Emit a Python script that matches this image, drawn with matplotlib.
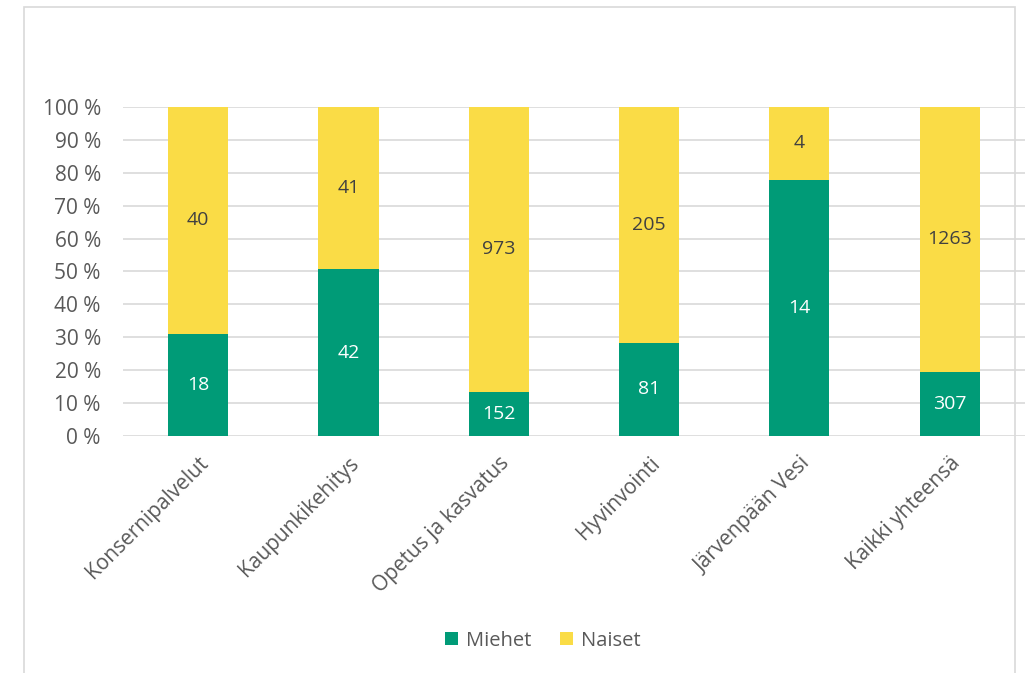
import matplotlib.pyplot as plt
import matplotlib.patches as mpatches
import numpy as np

plt.rcParams['font.family'] = ['Open Sans', 'DejaVu Sans']

# Data
categories = ["Konsernipalvelut", "Kaupunkikehitys", "Opetus ja kasvatus",
              "Hyvinvointi", "Järvenpään Vesi", "Kaikki yhteensä"]
miehet = np.array([18, 42, 152, 81, 14, 307])
naiset = np.array([40, 41, 973, 205, 4, 1263])

green = "#009B77"
yellow = "#FADC46"
text_gray = "#595959"

total = miehet + naiset
m_pct = miehet / total * 100
n_pct = naiset / total * 100

fig = plt.figure(figsize=(10.26, 6.73), dpi=100)
ax = fig.add_axes([0.1199, 0.3522, 0.879, 0.4889])

x = np.arange(len(categories))
ax.bar(x, m_pct, width=0.4, color=green, label="Miehet", zorder=3)
ax.bar(x, n_pct, width=0.4, bottom=m_pct, color=yellow, label="Naiset", zorder=3)

# Value labels
for i in range(len(categories)):
    ax.text(x[i], m_pct[i] / 2, str(miehet[i]), ha="center", va="center",
            color="white", fontsize=14, zorder=4)
    ax.text(x[i], m_pct[i] + n_pct[i] / 2, str(naiset[i]), ha="center", va="center",
            color="#404040", fontsize=14, zorder=4)

ax.set_xlim(-0.5, len(categories) - 0.5)
ax.set_ylim(0, 100)
ax.set_yticks(np.arange(0, 101, 10))
ax.set_yticklabels([f"{v} %" for v in range(0, 101, 10)])
ax.set_xticks(x)
ax.set_xticklabels(categories, rotation=45, ha="right", rotation_mode="anchor")

ax.tick_params(axis="both", length=0, labelsize=15, colors=text_gray)
ax.tick_params(axis="y", pad=16)
ax.tick_params(axis="x", pad=12)
ax.grid(axis="y", color="#D9D9D9", linewidth=1.2, zorder=0)
for s in ax.spines.values():
    s.set_visible(False)

# Legend
fig.legend(loc="center", bbox_to_anchor=(0.529, 0.048), ncol=2, frameon=False,
           fontsize=14.5, labelcolor=text_gray, handlelength=0.65, handleheight=0.65,
           handletextpad=0.4, columnspacing=1.4)

# Chart border
fig.patches.append(mpatches.Rectangle((0.0234, -0.1), 0.966, 1.0896, transform=fig.transFigure,
                                      fill=False, edgecolor="#D9D9D9", linewidth=1.2))

plt.savefig("out.png", dpi=100)
